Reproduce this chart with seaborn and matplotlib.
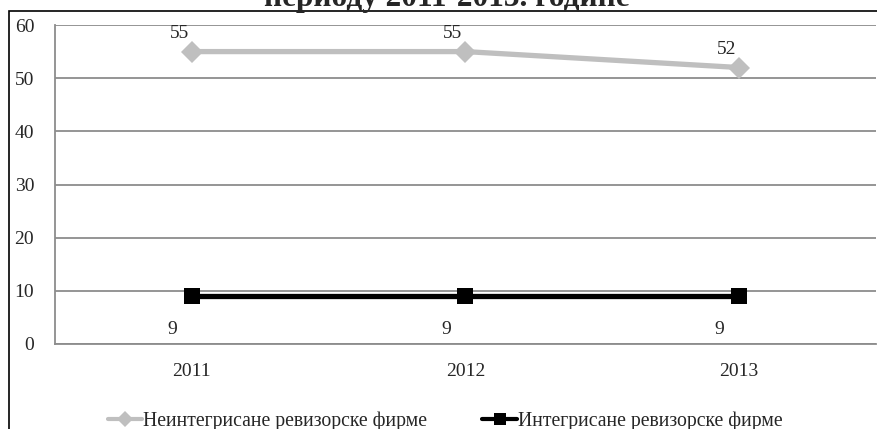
import pandas as pd
import seaborn as sns
import matplotlib.pyplot as plt
from matplotlib.patches import Rectangle

years = ['2011', '2012', '2013']
neintegrisane = [55, 55, 52]
integrisane = [9, 9, 9]
series_names = ['Неинтегрисане ревизорске фирме', 'Интегрисане ревизорске фирме']
y_ticks = [0, 10, 20, 30, 40, 50, 60]
title = 'периоду 2011-2013. године'

df = pd.DataFrame({
    'year': years * 2,
    'value': neintegrisane + integrisane,
    'series': [series_names[0]] * 3 + [series_names[1]] * 3,
})

sns.set_style('white')
plt.rcParams['font.family'] = ['Liberation Serif', 'DejaVu Serif']

fig = plt.figure(figsize=(8.77, 4.29), dpi=100)
ax = fig.add_axes([55 / 877, 1 - 344 / 429, 821 / 877, 319 / 429])

palette = {series_names[0]: '#bfbfbf', series_names[1]: '#000000'}
markers = {series_names[0]: 'D', series_names[1]: 's'}
sns.lineplot(data=df, x='year', y='value', hue='series', style='series',
             palette=palette, markers=markers, dashes=False, linewidth=3.8,
             markersize=10, markeredgewidth=0, ax=ax, legend=False, sort=False)
# diamond and square sized separately
ax.lines[0].set_markersize(11)
ax.lines[1].set_markersize(12)

ax.set_xlim(-0.5, 2.5)
ax.set_ylim(0, 60)
ax.set_yticks(y_ticks)
ax.set_xticks([0, 1, 2])
ax.set_xticks([-0.5, 0.5, 1.5, 2.5], minor=True)
ax.tick_params(axis='x', which='major', length=0, pad=14, labelsize=14)
ax.tick_params(axis='x', which='minor', length=7, color='#888888', width=1.2)
ax.tick_params(axis='y', length=7, color='#888888', width=1.2, pad=8, labelsize=14)
ax.set_xlabel('')
ax.set_ylabel('')
ax.grid(axis='y', color='#8c8c8c', linewidth=1.3)
ax.set_axisbelow(True)
for side in ['top', 'right']:
    ax.spines[side].set_visible(False)
for side in ['left', 'bottom']:
    ax.spines[side].set_color('#8c8c8c')
    ax.spines[side].set_linewidth(1.3)
ax.set_facecolor('none')

for i, v in enumerate(neintegrisane):
    ax.annotate(str(v), (i, v), xytext=(-9, 13), textcoords='offset points',
                ha='center', va='center', fontsize=14)
for i, v in enumerate(integrisane):
    ax.annotate(str(v), (i, v), xytext=(-14, -24), textcoords='offset points',
                ha='center', va='center', fontsize=14)

# chart area border (runs off the right and bottom edges)
fig.patches.append(Rectangle((9 / 877, -0.1), 1.1, 1.1 - 11 / 429,
                             transform=fig.transFigure, fill=False,
                             edgecolor='black', linewidth=1.2))

fig.text(447 / 877, 1 - 6 / 429, title, ha='center', va='baseline',
         fontsize=22.5, fontweight='bold')

handles = [plt.Line2D([], [], color='#bfbfbf', marker='D', markersize=8,
                      linewidth=3, markeredgewidth=0),
           plt.Line2D([], [], color='black', marker='s', markersize=9,
                      linewidth=3, markeredgewidth=0)]
fig.legend(handles, series_names, loc='center', bbox_to_anchor=(445 / 877, 1 - 421 / 429),
           ncol=2, frameon=False, fontsize=14.2, handlelength=1.75,
           handletextpad=0.05, columnspacing=2.8)

fig.savefig('out.png', dpi=100)
